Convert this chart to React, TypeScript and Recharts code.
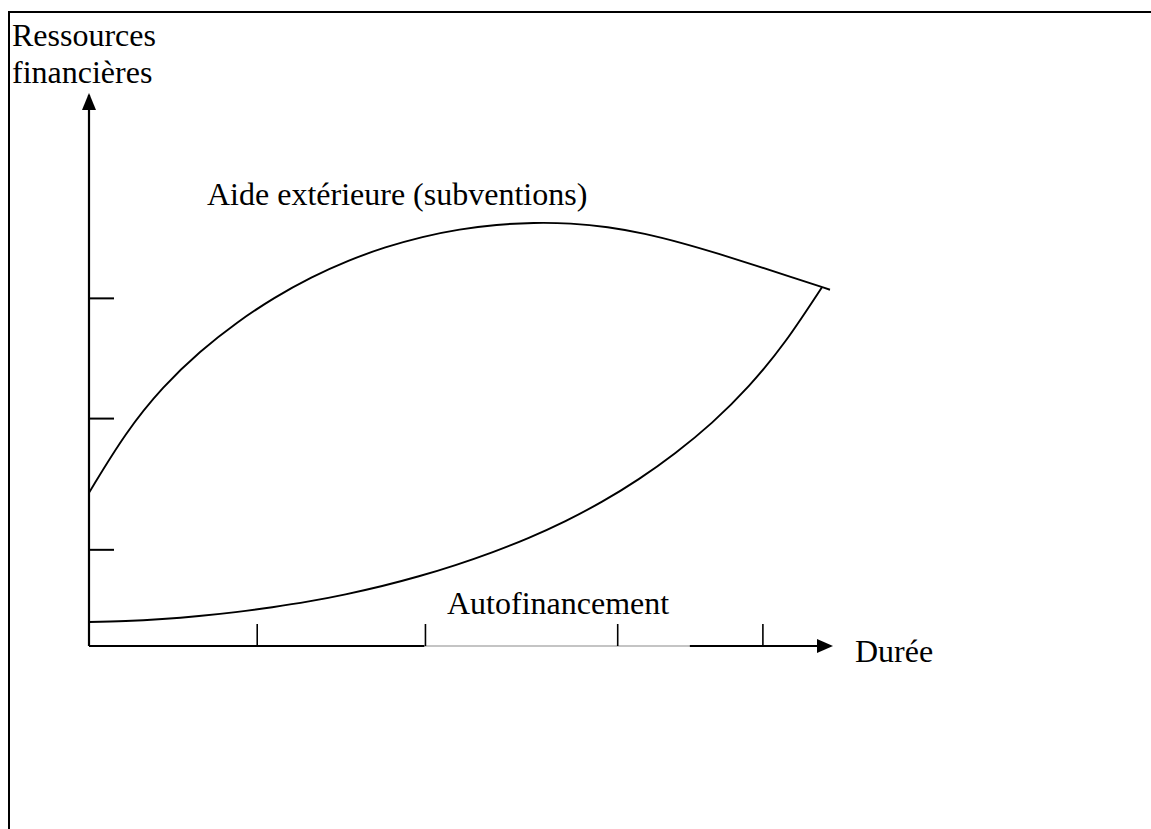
import React from "react";
import { LineChart, Line, XAxis, YAxis, ReferenceLine, ReferenceDot } from "recharts";

// Durée (x) vs Ressources financières (y), arbitrary units
const aideX = [0, 3.7, 7.4, 11.1, 14.8, 18.5, 22.2, 25.9, 29.6, 33.3, 37, 40.7, 44.4, 48.1, 51.8, 55.5, 59.2, 62.9, 66.6, 70.3, 74];
const aideY = [15.3, 21.4, 25.93, 29.45, 32.35, 34.79, 36.83, 38.5, 39.83, 40.87, 41.61, 42.07, 42.27, 42.21, 41.86, 41.18, 40.24, 39.15, 37.98, 36.78, 35.56];
const autoX = [0, 3.66, 7.32, 10.98, 14.64, 18.3, 21.96, 25.62, 29.28, 32.94, 36.6, 40.26, 43.92, 47.58, 51.24, 54.9, 58.56, 62.22, 65.88, 69.54, 73.2];
const autoY = [2.4, 2.49, 2.69, 2.99, 3.38, 3.87, 4.45, 5.16, 5.99, 6.96, 8.08, 9.35, 10.8, 12.47, 14.41, 16.66, 19.27, 22.3, 25.94, 30.42, 35.82];
const xTicks = [16.8, 33.6, 52.8, 67.3];
const yTicks = [9.6, 22.7, 34.7];
const labels = {
  yTitle: ["Ressources", "financières"],
  xTitle: "Durée",
  aide: "Aide extérieure (subventions)",
  auto: "Autofinancement",
};

const aideData = aideX.map((x, i) => ({ x, y: aideY[i] }));
const autoData = autoX.map((x, i) => ({ x, y: autoY[i] }));

const FONT = "'Liberation Serif', 'Times New Roman', serif";

const XArrow = (props: any) => {
  const { cx, cy } = props;
  return <polygon points={`${cx},${cy} ${cx - 16},${cy - 7} ${cx - 16},${cy + 7}`} fill="#000" />;
};
const YArrow = (props: any) => {
  const { cx, cy } = props;
  return <polygon points={`${cx},${cy - 2} ${cx - 7},${cy + 15} ${cx + 7},${cy + 15}`} fill="#000" />;
};

const textStyle: React.CSSProperties = {
  position: "absolute",
  fontFamily: FONT,
  fontSize: 32,
  color: "#000",
  whiteSpace: "nowrap",
  lineHeight: 1,
};

export default function App() {
  return (
    <div style={{ position: "absolute", left: 0, top: 0, width: 1151, height: 829, background: "#fff", overflow: "hidden" }}>
      <div
        style={{
          position: "absolute",
          left: 8,
          top: 11,
          width: 1200,
          height: 900,
          borderTop: "2px solid #000",
          borderLeft: "2px solid #000",
        }}
      />
      <div style={{ position: "absolute", left: 0, top: 0 }}>
        <LineChart width={1151} height={829} margin={{ top: 95, right: 311, bottom: 183, left: 89 }}>
          <XAxis
            dataKey="x"
            type="number"
            domain={[0, 75]}
            ticks={xTicks}
            height={1}
            mirror
            tickSize={22}
            axisLine={false}
            tickLine={{ stroke: "#000", strokeWidth: 1.6 }}
            tick={{ fontSize: 1, fill: "transparent" }}
            interval={0}
            allowDataOverflow
          />
          <YAxis
            type="number"
            domain={[0, 55]}
            ticks={yTicks}
            width={1}
            mirror
            tickSize={25}
            axisLine={{ stroke: "#000", strokeWidth: 2.2 }}
            tickLine={{ stroke: "#000", strokeWidth: 2 }}
            tick={{ fontSize: 1, fill: "transparent" }}
            interval={0}
            allowDataOverflow
          />
          <ReferenceLine segment={[{ x: 0, y: 0 }, { x: 33.5, y: 0 }]} stroke="#000" strokeWidth={2.2} ifOverflow="visible" />
          <ReferenceLine segment={[{ x: 33.5, y: 0 }, { x: 60, y: 0 }]} stroke="#8a8a8a" strokeWidth={1.2} ifOverflow="visible" />
          <ReferenceLine segment={[{ x: 60, y: 0 }, { x: 73, y: 0 }]} stroke="#000" strokeWidth={2.2} ifOverflow="visible" />
          <ReferenceDot x={74.3} y={0} r={1} shape={XArrow} ifOverflow="visible" />
          <ReferenceDot x={0} y={55} r={1} shape={YArrow} ifOverflow="visible" />
          <Line
            data={aideData}
            dataKey="y"
            type="basis"
            stroke="#000"
            strokeWidth={1.9}
            dot={false}
            activeDot={false}
            isAnimationActive={false}
          />
          <Line
            data={autoData}
            dataKey="y"
            type="natural"
            stroke="#000"
            strokeWidth={1.9}
            dot={false}
            activeDot={false}
            isAnimationActive={false}
          />
        </LineChart>
      </div>
      <div style={{ ...textStyle, left: 12, top: 19 }}>{labels.yTitle[0]}</div>
      <div style={{ ...textStyle, left: 12, top: 56 }}>{labels.yTitle[1]}</div>
      <div style={{ ...textStyle, left: 207, top: 178 }}>{labels.aide}</div>
      <div style={{ ...textStyle, left: 447, top: 587 }}>{labels.auto}</div>
      <div style={{ ...textStyle, left: 855, top: 635 }}>{labels.xTitle}</div>
    </div>
  );
}
